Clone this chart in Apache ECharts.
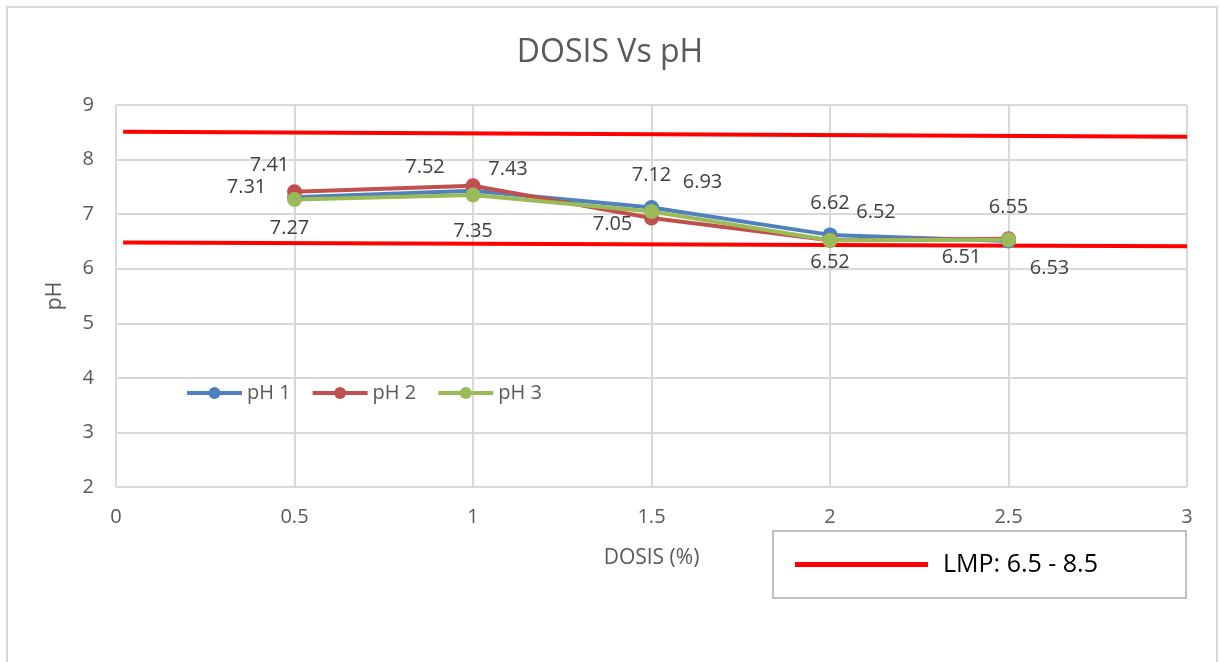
<!DOCTYPE html>
<html>
<head>
<meta charset="utf-8">
<script src="https://cdn.jsdelivr.net/npm/echarts@6/dist/echarts.min.js"></script>
<style>
html,body{margin:0;padding:0;background:#fff;}
#main{width:1220px;height:662px;}
</style>
</head>
<body>
<div id="main"></div>
<script>
// dosis (%) en el eje x
var dosis = [0.5, 1, 1.5, 2, 2.5];
var ph1 = [7.31, 7.43, 7.12, 6.62, 6.51];
var ph2 = [7.41, 7.52, 6.93, 6.52, 6.55];
var ph3 = [7.27, 7.35, 7.05, 6.52, 6.53];
var lmpAlto = [[0.02, 8.51], [3, 8.42]];
var lmpBajo = [[0.02, 6.48], [3, 6.41]];

// desplazamiento de etiquetas (como en el grafico original)
var off1 = [[-48, -10], [35, -21], [0, -32], [0, -32], [-47, 16]];
var off2 = [[-25, -26], [-48, -18], [51, -36], [46, -28], [0, -31]];
var off3 = [[-5, 29], [0, 36], [-39, 13], [0, 22], [41, 29]];

var FONT = 'Open Sans';

function puntos(vals, offs){
	var out = [];
	for(var i=0;i<vals.length;i++){
		out.push({
			value:[dosis[i], vals[i]],
			label:{offset:offs[i]}
		});
	}
	return out;
}

function serie(name, color, vals, offs){
	return {
		name:name,
		type:'line',
		data:puntos(vals, offs),
		symbol:'circle',
		symbolSize:15,
		z:3,
		lineStyle:{color:color, width:4},
		itemStyle:{color:color},
		label:{
			show:true,
			position:'inside',
			color:'#404040',
			fontSize:20,
			fontFamily:FONT,
			formatter:function(p){ return p.value[1].toFixed(2); }
		}
	};
}

function lmp(data){
	return {
		name:'LMP: 6.5 - 8.5',
		type:'line',
		data:data,
		symbol:'none',
		z:2,
		silent:true,
		lineStyle:{color:'#ff0000', width:4},
		itemStyle:{color:'#ff0000'}
	};
}

var myChart = echarts.init(document.getElementById('main'));
var option = {
	animation:false,
	backgroundColor:'#fff',
	textStyle:{fontFamily:FONT},
	title:{
		text:'DOSIS Vs pH',
		left:'center',
		top:32,
		textStyle:{fontSize:32, fontWeight:'normal', color:'#595959', fontFamily:FONT}
	},
	graphic:[{
		type:'rect',
		shape:{x:7, y:7, width:1210, height:700},
		style:{fill:null, stroke:'#d9d9d9', lineWidth:2},
		silent:true,
		z:-1
	}],
	legend:[{
		data:['pH 1','pH 2','pH 3'],
		left:180,
		top:378,
		itemWidth:55,
		itemHeight:15,
		itemGap:20,
		lineStyle:{width:4},
		textStyle:{fontSize:20, color:'#595959', fontFamily:FONT}
	},{
		data:['LMP: 6.5 - 8.5'],
		left:773,
		top:531,
		padding:[21, 88, 21, 22],
		icon:'rect',
		itemWidth:133,
		itemHeight:5,
		itemGap:10,
		borderColor:'#bfbfbf',
		borderWidth:2,
		backgroundColor:'#fff',
		textStyle:{fontSize:25, color:'#000', fontFamily:FONT, padding:[0,0,0,10]}
	}],
	grid:{left:116, right:33, top:105, bottom:175, containLabel:false},
	xAxis:{
		type:'value',
		min:0,
		max:3,
		interval:0.5,
		name:'DOSIS (%)',
		nameLocation:'middle',
		nameGap:61,
		nameTextStyle:{fontSize:21, color:'#595959', fontFamily:FONT},
		axisLine:{show:false},
		axisTick:{show:false},
		axisLabel:{fontSize:20, color:'#595959', margin:20, fontFamily:FONT},
		splitLine:{show:true, lineStyle:{color:'#d9d9d9', width:2}}
	},
	yAxis:{
		type:'value',
		min:2,
		max:9,
		interval:1,
		name:'pH',
		nameLocation:'middle',
		nameGap:50,
		nameTextStyle:{fontSize:21, color:'#595959', fontFamily:FONT},
		axisLine:{show:false},
		axisTick:{show:false},
		axisLabel:{fontSize:20, color:'#595959', margin:22, fontFamily:FONT},
		splitLine:{show:true, lineStyle:{color:'#d9d9d9', width:2}}
	},
	series:[
		lmp(lmpAlto),
		lmp(lmpBajo),
		serie('pH 1', '#4f81bd', ph1, off1),
		serie('pH 2', '#c0504d', ph2, off2),
		serie('pH 3', '#9bbb59', ph3, off3)
	]
};
myChart.setOption(option);
</script>
</body>
</html>
